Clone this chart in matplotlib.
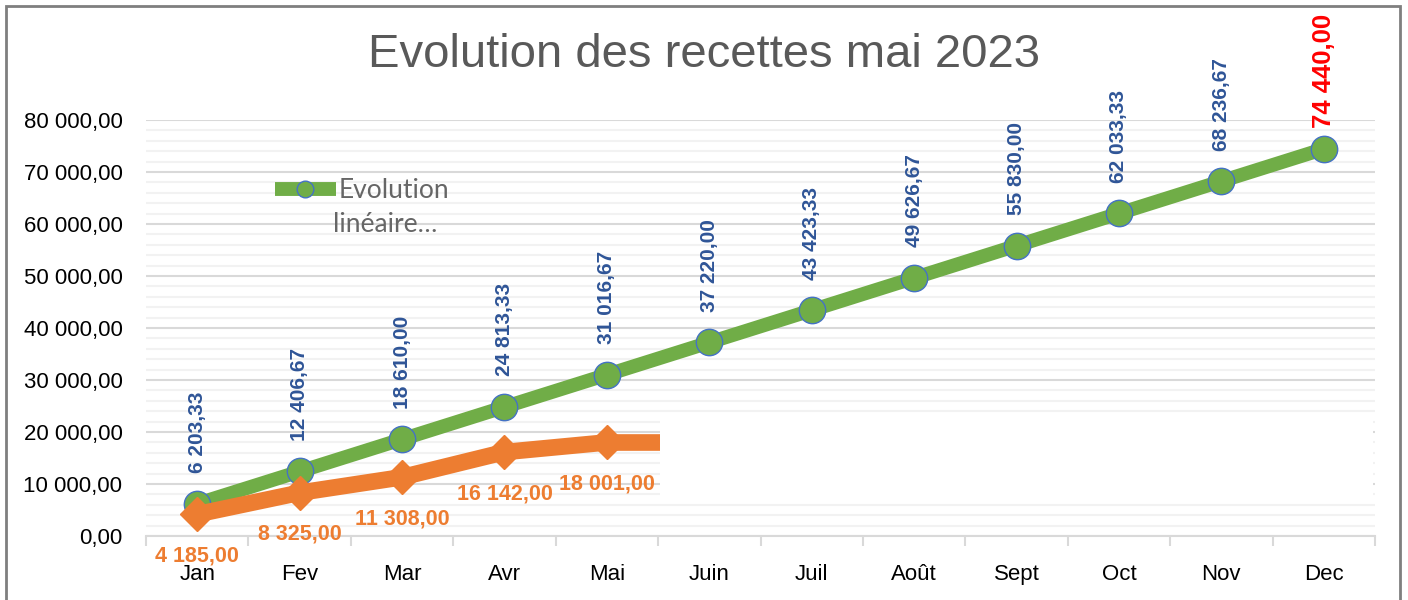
import matplotlib
matplotlib.use("Agg")
import matplotlib.pyplot as plt
import matplotlib.transforms as mtransforms
from matplotlib.patches import Rectangle
from matplotlib.ticker import MultipleLocator, FixedLocator

months = ["Jan", "Fev", "Mar", "Avr", "Mai", "Juin", "Juil", "Août", "Sept", "Oct", "Nov", "Dec"]
lineaire = [6203.33, 12406.67, 18610.00, 24813.33, 31016.67, 37220.00,
            43423.33, 49626.67, 55830.00, 62033.33, 68236.67, 74440.00]
recettes = [4185.00, 8325.00, 11308.00, 16142.00, 18001.00]
recettes_suite = [18001.00, 18001.00]  # hidden behind the white box

narrow = ["Liberation Sans", "DejaVu Sans"]
GREEN = "#70AD47"
ORANGE = "#ED7D31"
BLUE = "#2F5597"


def fr(v):
    return f"{v:,.2f}".replace(",", " ").replace(".", ",")


fig = plt.figure(figsize=(14.08, 6), dpi=100)
ax = fig.add_axes([146 / 1408, 64 / 600, 1229 / 1408, 416 / 600])

x = list(range(len(months)))
ax.plot(x, lineaire, color=GREEN, lw=10, marker="o", ms=19,
        mfc=GREEN, mec="#4472C4", mew=1, zorder=4, solid_capstyle="butt",
        label="Evolution")
ax.plot(x[:len(recettes)], recettes, color=ORANGE, lw=12, marker="D", ms=17,
        mfc=ORANGE, mec=ORANGE, zorder=5, solid_capstyle="butt")
ax.plot([4, 5], recettes_suite, color=ORANGE, lw=12, zorder=5, solid_capstyle="butt")

# white box that hides part of the plot
trans = mtransforms.blended_transform_factory(ax.transAxes, ax.transData)
ax.add_patch(Rectangle((0.418, 6900), 0.58, 15700, transform=trans,
                       facecolor="white", edgecolor="none", zorder=6))

for i, v in enumerate(lineaire):
    last = i == len(lineaire) - 1
    ax.annotate(fr(v), (i, v), xytext=(0, 15 if last else 22), textcoords="offset points",
                rotation=90, ha="center", va="bottom", fontweight="bold",
                fontsize=18.5 if last else 15, color="red" if last else BLUE,
                family=narrow, annotation_clip=False, zorder=7)

for i, v in enumerate(recettes):
    ax.annotate(fr(v), (i, v), xytext=(0, -30), textcoords="offset points",
                ha="center", va="center", fontweight="bold", fontsize=15.5,
                color=ORANGE, family=narrow, annotation_clip=False, zorder=7)

ax.set_xlim(-0.5, 11.5)
ax.set_ylim(0, 80000)
ax.yaxis.set_major_locator(MultipleLocator(10000))
ax.yaxis.set_minor_locator(MultipleLocator(2000))
ax.grid(axis="y", which="major", color="#D9D9D9", lw=1.5, zorder=0)
ax.grid(axis="y", which="minor", color="#F2F2F2", lw=1.5, zorder=0)
ax.set_axisbelow(True)

ax.set_xticks(x)
ax.set_xticklabels(months, family=narrow, fontsize=16)
ax.xaxis.set_minor_locator(FixedLocator([i - 0.5 for i in range(13)]))
ax.tick_params(axis="x", which="major", length=0, pad=20)
ax.tick_params(axis="x", which="minor", length=7, color="#D9D9D9", width=1.5)
ax.set_yticks(range(0, 80001, 10000))
ax.set_yticklabels([fr(v) for v in range(0, 80001, 10000)], family=narrow, fontsize=16)
ax.tick_params(axis="y", which="both", length=0, pad=17)

for s in ["top", "right", "left"]:
    ax.spines[s].set_visible(False)
ax.spines["bottom"].set_color("#D9D9D9")
ax.spines["bottom"].set_linewidth(1.5)

fig.text(0.5, 1 - 55 / 600, "Evolution des recettes mai 2023", ha="center", va="center",
         fontsize=34, color="#595959", family=["Liberation Sans", "DejaVu Sans"])

leg = ax.legend(loc="center left", bbox_to_anchor=(275 / 1408, 1 - 191 / 600),
                bbox_transform=fig.transFigure, frameon=False, handlelength=2.3,
                handletextpad=0.1, borderpad=0, borderaxespad=0,
                prop={"family": "Lato", "size": 19})
for h in leg.legend_handles:
    h.set_markersize(12)
for t in leg.get_texts():
    t.set_color("#666666")
fig.text(333 / 1408, 1 - 225 / 600, "linéaire…", ha="left", va="center",
         fontsize=19, color="#666666", family="Lato")

fig.add_artist(Rectangle((6 / 1408, -0.02), 1394 / 1408, 1.02 - 6 / 600,
                         transform=fig.transFigure, fill=False,
                         edgecolor="#7F7F7F", lw=2))

fig.savefig("out.png", dpi=100)
